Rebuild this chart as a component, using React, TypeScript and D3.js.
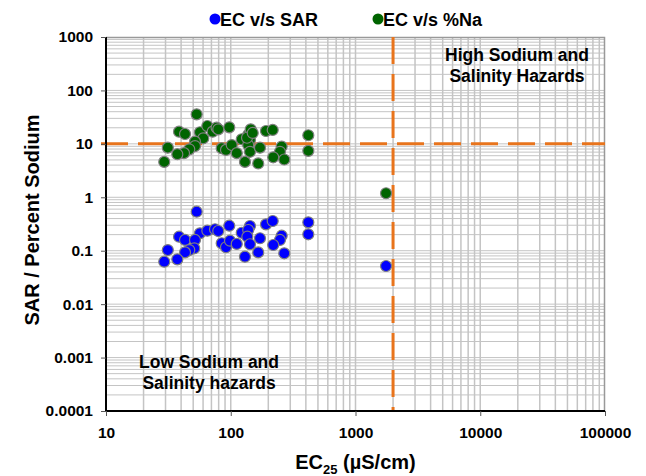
import React, { useRef, useEffect } from 'react';
import * as d3 from 'd3';

// EC (uS/cm) vs SAR
const sarEC = [53.3, 38.5, 43, 56.6, 64.9, 74.8, 79.4, 97.3, 51.7, 51, 46.5, 43, 31.3, 29.3, 37.3, 84.6, 91.6, 98.6, 111.7, 122.5, 130, 142.6, 138, 135.8, 142.6, 166, 171.5, 191.6, 216.9, 256, 248, 219, 268.5, 418.6, 418.6, 1757];
const sarValues = [0.537, 0.183, 0.159, 0.212, 0.237, 0.252, 0.234, 0.294, 0.159, 0.111, 0.103, 0.093, 0.103, 0.0623, 0.069, 0.138, 0.116, 0.154, 0.134, 0.217, 0.0773, 0.29, 0.244, 0.183, 0.132, 0.093, 0.171, 0.312, 0.36, 0.191, 0.159, 0.128, 0.0895, 0.34, 0.203, 0.0517];

// EC (uS/cm) vs %Na
const naEC = [53.3, 38.5, 43, 56.6, 64.9, 71.6, 77, 79.4, 97.3, 60.2, 51.7, 51.7, 46.5, 42.2, 37.3, 31.3, 29.3, 84.6, 91.6, 101.8, 111.7, 122.5, 130, 138, 144.5, 142.6, 138, 142.6, 135, 150, 166, 171.5, 191.6, 216.9, 256, 248, 219, 268.5, 418.6, 418.6, 1757];
const naValues = [35.7, 16.9, 15.3, 16.5, 21.6, 16.9, 20.1, 18.7, 20.4, 12.7, 11, 9.1, 7.9, 6.7, 6.4, 8.5, 4.6, 8.3, 7.7, 9.5, 6.7, 12.2, 4.6, 14.7, 18.7, 11.8, 9.5, 7.1, 13, 16, 4.3, 8.5, 17.4, 18.2, 8.9, 7.1, 5.6, 5.1, 14.5, 7.4, 1.19];

const xTicks = [10, 100, 1000, 10000, 100000];
const yTicks = [0.0001, 0.001, 0.01, 0.1, 1, 10, 100, 1000];
const ecLimit = 2000;
const sodiumLimit = 10;

const App = () => {
  const svgRef = useRef(null);

  useEffect(() => {
    document.body.style.margin = '0';
    const width = 646;
    const height = 476;
    const margin = { top: 37, right: 41, bottom: 65, left: 106 };
    const innerWidth = width - margin.left - margin.right;
    const innerHeight = height - margin.top - margin.bottom;
    const font = '"Liberation Sans", Arial, sans-serif';

    const svg = d3.select(svgRef.current);
    svg.selectAll('*').remove();
    svg.attr('width', width).attr('height', height);

    svg.append('rect').attr('width', width).attr('height', height).attr('fill', '#fff');

    const xScale = d3.scaleLog().domain([10, 100000]).range([0, innerWidth]);
    const yScale = d3.scaleLog().domain([0.0001, 1000]).range([innerHeight, 0]);

    const g = svg.append('g').attr('transform', `translate(${margin.left}, ${margin.top})`);

    // minor + major gridlines
    const xGrid = xScale.ticks().filter(d => d > 10 && d < 100000);
    const yGrid = yScale.ticks().filter(d => d > 0.0001 && d < 1000);

    g.selectAll('.xgrid')
      .data(xGrid)
      .join('line')
      .attr('x1', d => xScale(d))
      .attr('x2', d => xScale(d))
      .attr('y1', 0)
      .attr('y2', innerHeight)
      .attr('stroke', '#c4c4c4')
      .attr('stroke-width', 1.5);

    g.selectAll('.ygrid')
      .data(yGrid)
      .join('line')
      .attr('x1', 0)
      .attr('x2', innerWidth)
      .attr('y1', d => yScale(d))
      .attr('y2', d => yScale(d))
      .attr('stroke', '#c4c4c4')
      .attr('stroke-width', 1);

    // top/right border
    g.append('path')
      .attr('d', `M0,0.5H${innerWidth - 0.5}V${innerHeight}`)
      .attr('fill', 'none')
      .attr('stroke', '#999')
      .attr('stroke-width', 1.5);

    // threshold lines
    g.append('line')
      .attr('x1', -5)
      .attr('x2', innerWidth)
      .attr('y1', yScale(sodiumLimit))
      .attr('y2', yScale(sodiumLimit))
      .attr('stroke', '#E8741C')
      .attr('stroke-width', 3)
      .attr('stroke-dasharray', '27,10');

    g.append('line')
      .attr('x1', xScale(ecLimit))
      .attr('x2', xScale(ecLimit))
      .attr('y1', 0)
      .attr('y2', innerHeight)
      .attr('stroke', '#E8741C')
      .attr('stroke-width', 3)
      .attr('stroke-dasharray', '27,10');

    // axes
    const xAxis = g.append('g')
      .attr('transform', `translate(0, ${innerHeight})`)
      .call(d3.axisBottom(xScale).tickValues(xTicks).tickSize(5).tickPadding(11).tickFormat(d => String(d)));
    const yAxis = g.append('g')
      .call(d3.axisLeft(yScale).tickValues(yTicks).tickSize(5).tickPadding(8).tickFormat(d => String(d)));

    [xAxis, yAxis].forEach(ax => {
      ax.select('.domain').attr('stroke', '#000').attr('stroke-width', 2);
      ax.selectAll('.tick line').attr('stroke', '#555');
      ax.selectAll('text')
        .attr('fill', '#000')
        .style('font-family', font)
        .style('font-size', '15.5px')
        .style('font-weight', 'bold');
    });
    xAxis.select('.domain').attr('d', `M0,0H${innerWidth}`);
    yAxis.select('.domain').attr('d', `M0,${innerHeight}V0`);

    // points
    const drawPoints = (xs, ys, color) => {
      g.append('g')
        .selectAll('circle')
        .data(xs.map((x, i) => [x, ys[i]]))
        .join('circle')
        .attr('cx', d => xScale(d[0]))
        .attr('cy', d => yScale(d[1]))
        .attr('r', 5.5)
        .attr('fill', color)
        .attr('stroke', '#7f7f7f')
        .attr('stroke-width', 1.2);
    };
    drawPoints(naEC, naValues, '#006400');
    drawPoints(sarEC, sarValues, '#0000ff');

    // region labels
    const label = (lines, cx, y0) => {
      lines.forEach((t, i) => {
        g.append('text')
          .attr('x', cx)
          .attr('y', y0 + i * 21)
          .attr('text-anchor', 'middle')
          .style('font-family', font)
          .style('font-size', '17.5px')
          .style('font-weight', 'bold')
          .text(t);
      });
    };
    label(['High Sodium and', 'Salinity Hazards'], 517 - margin.left, 61 - margin.top);
    label(['Low Sodium and', 'Salinity hazards'], 209 - margin.left, 368 - margin.top);

    // axis titles
    const xt = svg.append('text')
      .attr('x', margin.left + innerWidth / 2)
      .attr('y', 469)
      .attr('text-anchor', 'middle')
      .style('font-family', font)
      .style('font-size', '20px')
      .style('font-weight', 'bold');
    xt.append('tspan').text('EC');
    xt.append('tspan').attr('dy', 5).style('font-size', '13px').text('25');
    xt.append('tspan').attr('dy', -5).text(' (µS/cm)');

    svg.append('text')
      .attr('transform', `translate(39, ${margin.top + innerHeight / 2 - 4}) rotate(-90)`)
      .attr('text-anchor', 'middle')
      .style('font-family', font)
      .style('font-size', '20px')
      .style('font-weight', 'bold')
      .text('SAR / Percent Sodium');

    // legend
    const legend = [
      { name: 'EC v/s SAR', color: '#0000ff', x: 215 },
      { name: 'EC v/s %Na', color: '#006400', x: 378 },
    ];
    legend.forEach(l => {
      svg.append('circle').attr('cx', l.x).attr('cy', 19).attr('r', 5.5).attr('fill', l.color);
      svg.append('text')
        .attr('x', l.x + 5)
        .attr('y', 25.5)
        .style('font-family', font)
        .style('font-size', '18px')
        .style('font-weight', 'bold')
        .text(l.name);
    });
  }, []);

  return (
    <div>
      <svg ref={svgRef}></svg>
    </div>
  );
};

export default App;
